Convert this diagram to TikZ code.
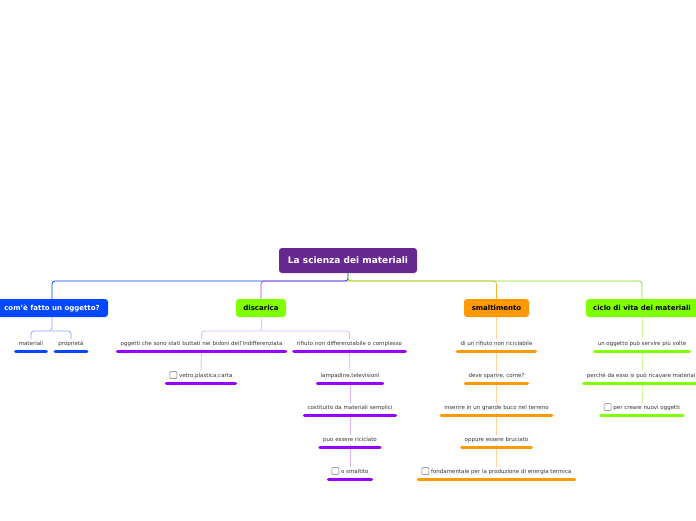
\documentclass[tikz,border=0pt]{standalone}
\usepackage{fontspec}
\setmainfont{DejaVu Sans}
\definecolor{rootc}{RGB}{102,41,145}
\definecolor{bluec}{RGB}{0,72,255}
\definecolor{bluel}{RGB}{140,165,255}
\definecolor{purpc}{RGB}{153,0,255}
\definecolor{purpm}{RGB}{170,60,230}
\definecolor{purpl}{RGB}{220,180,255}
\definecolor{greenc}{RGB}{128,255,0}
\definecolor{greenm}{RGB}{130,225,20}
\definecolor{greenl}{RGB}{205,255,160}
\definecolor{orangec}{RGB}{255,153,0}
\definecolor{orangel}{RGB}{255,214,150}
\newcommand\ulbar[2]{\draw[line width=3pt, line cap=round, #1] ([xshift=1.5pt,yshift=-2.4pt]#2.south west) -- ([xshift=-1.5pt,yshift=-2.4pt]#2.south east);}
\newcommand\chkbox{\tikz[baseline=0pt]\draw[black!55, line width=0.5pt, rounded corners=1pt] (0pt,-1.2pt) rectangle (7pt,5.8pt);\hspace{2pt}}
\begin{document}
\begin{tikzpicture}[x=1pt,y=-1pt,
  rootbox/.style={fill=rootc, rounded corners=3pt, text=white, font=\bfseries\fontsize{9}{11}\selectfont, minimum width=138pt, minimum height=25pt, inner sep=0pt},
  mainbox/.style={rounded corners=3pt, font=\bfseries\fontsize{7}{9}\selectfont, minimum height=18pt, inner sep=0pt},
  sublbl/.style={font=\fontsize{5.5}{6.5}\selectfont, text=black!80, inner xsep=4.5pt, inner ysep=2pt, text height=4pt, text depth=1.2pt},
  conn/.style={line width=0.8pt, rounded corners=3pt}]
\useasboundingbox (0,0) rectangle (696,520);

% root
\node[rootbox] (root) at (348,260.5) {La scienza dei materiali};

% main branches
\node[mainbox, fill=bluec, text=white, minimum width=112pt] (com) at (52,308) {com'è fatto un oggetto?};
\node[mainbox, fill=greenc, text=black, minimum width=50pt] (dis) at (261,308) {discarica};
\node[mainbox, fill=orangec, text=black, minimum width=65pt] (sma) at (496.5,308) {smaltimento};
\node[mainbox, fill=greenc, text=black, minimum width=112pt] (cic) at (642,308) {ciclo di vita dei materiali};

\coordinate (hub) at (348,281);
\draw[conn, bluec] (root.south) |- (hub) -| (com.north);
\draw[conn, purpm] (hub) -| (dis.north);
\draw[conn, orangec!80] (hub) -| (sma.north);
\draw[conn, greenm] (root.south) |- (hub) -| (cic.north);

% com'e fatto
\node[sublbl] (mat) at (31,344) {materiali};
\node[sublbl] (pro) at (71,344) {proprietà};
\coordinate (cj) at (52,331);
\draw[conn, bluel] (com.south) -- (cj) -| (mat.north);
\draw[conn, bluel] (cj) -| (pro.north);
\ulbar{bluec}{mat}
\ulbar{bluec}{pro}

% discarica
\node[sublbl] (ogg) at (201.5,344) {oggetti che sono stati buttati nei bidoni dell'indifferenziata};
\node[sublbl] (rif) at (349.5,344) {rifiuto non differenziabile o complesso};
\node[sublbl] (vet) at (201,376) {\chkbox vetro,plastica,carta};
\node[sublbl] (lam) at (350,376) {lampadine,televisioni};
\node[sublbl] (cos) at (350,408) {costituito da materiali semplici};
\node[sublbl] (puo) at (350,440) {puo essere riciclato};
\node[sublbl] (osm) at (350,472) {\chkbox o smaltito};
\coordinate (dj) at (262,331);
\draw[conn, purpl] (dis.south) -- (dj) -| (ogg.north);
\draw[conn, purpl] (dj) -| (rif.north);
\draw[conn, purpl] (ogg.south) -- (vet.north);
\draw[conn, purpl] (rif.south) -- (lam.north);
\draw[conn, purpl] (lam.south) -- (cos.north);
\draw[conn, purpl] (cos.south) -- (puo.north);
\draw[conn, purpl] (puo.south) -- (osm.north);
\foreach \n in {ogg,rif,vet,lam,cos,puo,osm} {\ulbar{purpc}{\n}}

% smaltimento
\node[sublbl] (s1) at (496.5,344) {di un rifiuto non riciclabile};
\node[sublbl] (s2) at (496.5,376) {deve sparire, come?};
\node[sublbl] (s3) at (496.5,408) {inserire in un grande buco nel terreno};
\node[sublbl] (s4) at (496.5,440) {oppure essere bruciato};
\node[sublbl] (s5) at (496.5,472) {\chkbox fondamentale per la produzione di energia termica};
\draw[conn, orangel] (sma.south) -- (s1.north);
\draw[conn, orangel] (s1.south) -- (s2.north);
\draw[conn, orangel] (s2.south) -- (s3.north);
\draw[conn, orangel] (s3.south) -- (s4.north);
\draw[conn, orangel] (s4.south) -- (s5.north);
\foreach \n in {s1,s2,s3,s4,s5} {\ulbar{orangec}{\n}}

% ciclo di vita
\node[sublbl] (c1) at (642,344) {un oggetto può servire più volte};
\node[sublbl] (c2) at (642,376) {perché da esso si può ricavare materiali};
\node[sublbl] (c3) at (642,408) {\chkbox per creare nuovi oggetti};
\draw[conn, greenl] (cic.south) -- (c1.north);
\draw[conn, greenl] (c1.south) -- (c2.north);
\draw[conn, greenl] (c2.south) -- (c3.north);
\foreach \n in {c1,c2,c3} {\ulbar{greenc}{\n}}
\end{tikzpicture}
\end{document}
